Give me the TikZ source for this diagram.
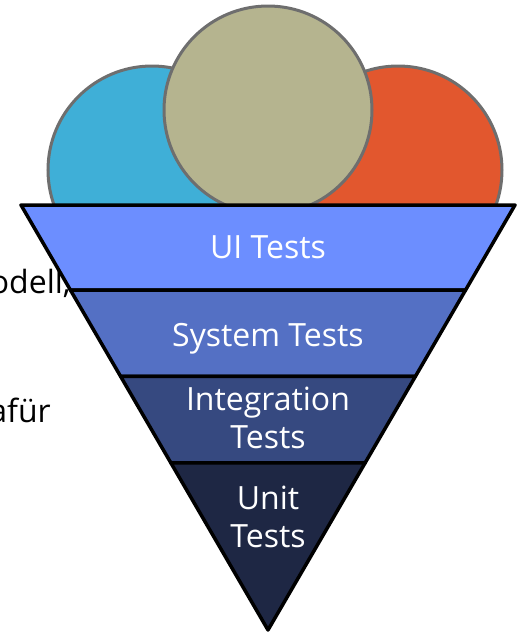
\documentclass[tikz,border=0pt]{standalone}
\usepackage{fontspec}
\setmainfont{Open Sans}
\usetikzlibrary{calc}

\definecolor{scoopgray}{RGB}{110,110,110}
\definecolor{scoopblue}{RGB}{63,175,215}
\definecolor{scoopsand}{RGB}{181,180,143}
\definecolor{scoopred}{RGB}{226,87,46}
\definecolor{uilayer}{RGB}{108,142,255}
\definecolor{syslayer}{RGB}{84,112,196}
\definecolor{intlayer}{RGB}{54,73,128}
\definecolor{unitlayer}{RGB}{30,39,68}

\begin{document}
\begin{tikzpicture}[x=1pt,y=-1pt,
  scoop/.style={draw=scoopgray,line width=3pt},
  layer/.style={draw=black,line width=3.5pt,line join=round},
  label/.style={text=white,align=center,anchor=base,font=\fontsize{32}{38}\selectfont},
  bgtext/.style={anchor=base east,inner sep=0pt,font=\fontsize{32}{38}\selectfont}]
  \useasboundingbox (0,0) rectangle (517,633);
  \clip (0,0) rectangle (517,633);

  \node[bgtext] (modell) at (71,293) {odell,};
  \node[bgtext] (dafuer) at (51,422) {afür};

  \draw[scoop,fill=scoopblue] (152,170) circle (104);
  \draw[scoop,fill=scoopred] (398,170) circle (104);
  \draw[scoop,fill=scoopsand] (268,110) circle (104);

  \coordinate (tl) at (21,205);
  \coordinate (tr) at (515,205);
  \coordinate (tip) at (268,630);

  \draw[layer,fill=uilayer] (tl) -- (tr) -- ($(tr)!0.2!(tip)$) -- ($(tl)!0.2!(tip)$) -- cycle;
  \draw[layer,fill=syslayer] ($(tl)!0.2!(tip)$) -- ($(tr)!0.2!(tip)$) -- ($(tr)!0.403!(tip)$) -- ($(tl)!0.403!(tip)$) -- cycle;
  \draw[layer,fill=intlayer] ($(tl)!0.403!(tip)$) -- ($(tr)!0.403!(tip)$) -- ($(tr)!0.607!(tip)$) -- ($(tl)!0.607!(tip)$) -- cycle;
  \draw[layer,fill=unitlayer] ($(tl)!0.607!(tip)$) -- ($(tr)!0.607!(tip)$) -- (tip) -- cycle;

  \node[label] (ui) at (268,258) {UI Tests};
  \node[label] (system) at (268,346) {System Tests};
  \node[label] (integration) at (268,448) {Integration\\Tests};
  \node[label] (unit) at (268,547) {Unit\\Tests};
\end{tikzpicture}
\end{document}
